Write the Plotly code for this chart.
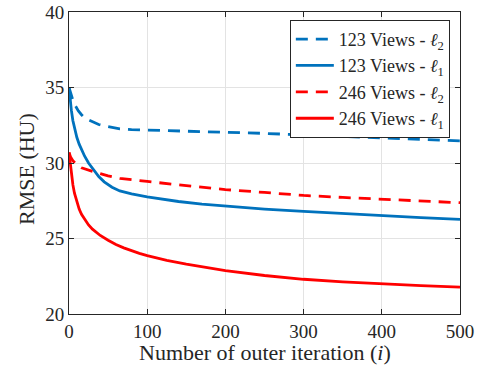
import plotly.graph_objects as go

# Iteration positions and RMSE values
it_b1 = [0, 1, 2, 3, 5, 7, 10, 13, 16, 20, 25, 31, 38, 45, 55, 65, 80, 100, 120, 140, 170, 200, 250, 300, 350, 400, 450, 500]
rmse_123_l1 = [35.0, 34.4, 33.9, 33.5, 32.8, 32.3, 31.7, 31.25, 30.85, 30.45, 30.0, 29.55, 29.1, 28.75, 28.4, 28.15, 27.95, 27.75, 27.6, 27.45, 27.28, 27.14, 26.95, 26.8, 26.65, 26.49, 26.38, 26.27]

it_b2 = [0, 2, 5, 8, 12, 16, 20, 25, 30, 38, 45, 55, 65, 80, 100, 150, 200, 250, 300, 350, 400, 450, 500]
rmse_123_l2 = [35.0, 34.6, 34.15, 33.8, 33.45, 33.2, 33.0, 32.85, 32.72, 32.55, 32.45, 32.33, 32.26, 32.21, 32.18, 32.12, 32.06, 31.96, 31.86, 31.77, 31.68, 31.58, 31.47]

it_r2 = [0, 2, 5, 8, 12, 16, 20, 25, 30, 40, 50, 65, 80, 100, 150, 200, 250, 300, 350, 400, 450, 500]
rmse_246_l2 = [30.7, 30.4, 30.15, 29.97, 29.8, 29.68, 29.6, 29.52, 29.45, 29.3, 29.15, 28.98, 28.88, 28.78, 28.5, 28.24, 28.05, 27.85, 27.72, 27.59, 27.48, 27.37]

it_r1 = [0, 1, 2, 3, 5, 7, 10, 13, 16, 20, 25, 30, 35, 40, 50, 60, 70, 80, 90, 100, 125, 150, 200, 250, 300, 350, 400, 450, 500]
rmse_246_l1 = [30.7, 30.2, 29.7, 29.25, 28.55, 28.0, 27.4, 26.95, 26.6, 26.25, 25.9, 25.62, 25.4, 25.2, 24.88, 24.6, 24.38, 24.18, 24.02, 23.87, 23.55, 23.3, 22.87, 22.55, 22.3, 22.13, 21.99, 21.88, 21.78]

x_ticks = [0, 100, 200, 300, 400, 500]
y_ticks = [20, 25, 30, 35, 40]

BLUE = "#0072BD"
RED = "#FF0000"
FONT = "Liberation Serif"
TXT = "#262626"

fig = go.Figure()
fig.add_trace(go.Scatter(x=it_b2, y=rmse_123_l2, mode="lines",
                         name="123 Views - <i>ℓ</i><sub>2</sub>",
                         line=dict(color=BLUE, width=2.8, dash="12px,8px")))
fig.add_trace(go.Scatter(x=it_b1, y=rmse_123_l1, mode="lines",
                         name="123 Views - <i>ℓ</i><sub>1</sub>",
                         line=dict(color=BLUE, width=2.8)))
fig.add_trace(go.Scatter(x=it_r2, y=rmse_246_l2, mode="lines",
                         name="246 Views - <i>ℓ</i><sub>2</sub>",
                         line=dict(color=RED, width=2.8, dash="12px,8px")))
fig.add_trace(go.Scatter(x=it_r1, y=rmse_246_l1, mode="lines",
                         name="246 Views - <i>ℓ</i><sub>1</sub>",
                         line=dict(color=RED, width=2.8)))

axis_common = dict(
    showline=True, linecolor=TXT, linewidth=1, mirror="ticks",
    ticks="inside", ticklen=5, tickcolor=TXT,
    showgrid=True, gridcolor="#e3e3e3", gridwidth=1, zeroline=False,
    tickfont=dict(family=FONT, size=19, color=TXT),
    automargin=False,
)

fig.update_layout(
    width=482, height=372,
    margin=dict(l=69, r=22, t=12, b=58),
    paper_bgcolor="white", plot_bgcolor="white",
    font=dict(family=FONT, size=19, color=TXT),
    showlegend=True,
    legend=dict(x=0.974, y=0.974, xanchor="right", yanchor="top",
                bgcolor="white", bordercolor=TXT, borderwidth=1,
                font=dict(family=FONT, size=18, color=TXT),
                tracegroupgap=0, itemwidth=38),
    xaxis=dict(range=[0, 500], tickvals=x_ticks, **axis_common),
    yaxis=dict(range=[20, 40], tickvals=y_ticks, **axis_common),
    annotations=[
        dict(text="Number of outer iteration (<i>i</i>)", xref="paper", yref="paper",
             x=0.5, y=-0.128, xanchor="center", yanchor="middle", showarrow=False,
             font=dict(family=FONT, size=22, color=TXT)),
        dict(text="RMSE (HU)", xref="paper", yref="paper", textangle=-90,
             x=-0.11, y=0.48, xanchor="center", yanchor="middle", showarrow=False,
             font=dict(family=FONT, size=22, color=TXT)),
    ],
)

fig.write_html("out.html", config={"displayModeBar": False},
               post_script="document.body.style.margin='0px';")
